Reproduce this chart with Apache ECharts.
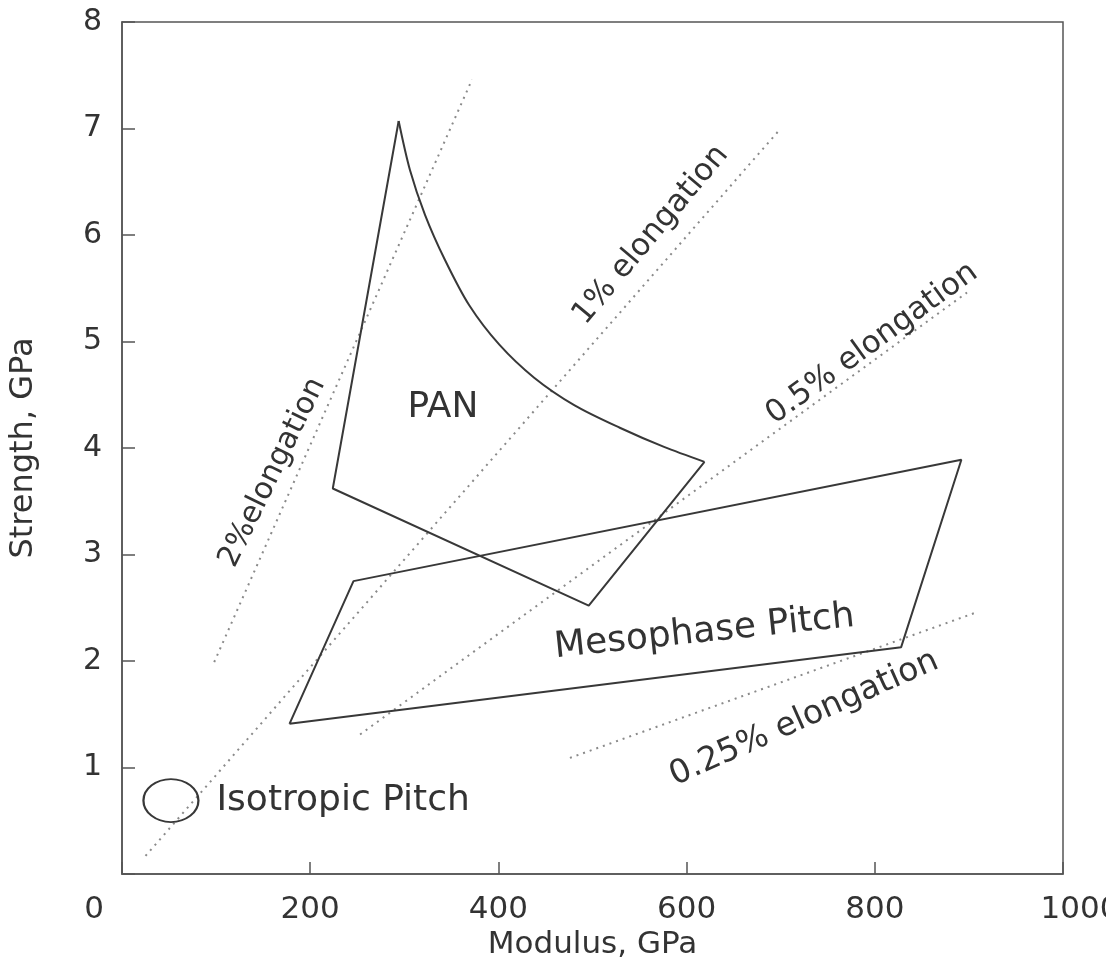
<!DOCTYPE html>
<html>
<head>
<meta charset="utf-8">
<script src="https://cdn.jsdelivr.net/npm/echarts@6/dist/echarts.min.js"></script>
<style>
html,body{margin:0;padding:0;background:#fff;}
#chart{width:1106px;height:976px;}
</style>
</head>
<body>
<div id="chart"></div>
<script>
// ---- data (Modulus GPa, Strength GPa) ----
var xTicks = [0, 200, 400, 600, 800, 1000];
var yTicks = [1, 2, 3, 4, 5, 6, 7, 8];

var panEdges = [[294, 7.07], [224, 3.62], [496, 2.52], [619, 3.87]];
var panCurve = [[619, 3.87], [576, 4.01], [529, 4.19], [481, 4.40], [438, 4.66], [401, 4.97], [369, 5.34], [343, 5.77], [322, 6.19], [306, 6.61], [294, 7.07]];
var mesophase = [[178, 1.41], [246, 2.75], [892, 3.89], [828, 2.13], [178, 1.41]];
var isotropic = [[52, 0.69]];

var elong2 = [[98, 1.99], [372, 7.46]];
var elong1 = [[25, 0.17], [700, 7.0]];
var elong05 = [[253, 1.31], [898, 5.46]];
var elong025 = [[476, 1.09], [909, 2.46]];

var labelTexts = ['PAN', 'Mesophase Pitch', 'Isotropic Pitch', '2%elongation', '1% elongation', '0.5% elongation', '0.25% elongation'];
var labelAt = [[341, 4.38], [619, 2.27], [235, 0.69], [160, 3.77], [562, 6.0], [797, 4.98], [725, 1.46]];
var labelRotate = [0, 6, 0, 64, 50, 36, 24];
var labelSize = [36, 36, 36, 30, 31, 31, 33];

// ---- chart ----
var FONT = 'DejaVu Sans';
var INK = '#333';
var chart = echarts.init(document.getElementById('chart'), null, {renderer: 'canvas'});

function solid(data, smooth) {
  return {type: 'line', data: data, symbol: 'none', silent: true, smooth: smooth || false,
    lineStyle: {color: '#383838', width: 2}, z: 3};
}
function dotted(data) {
  return {type: 'line', data: data, symbol: 'none', silent: true,
    lineStyle: {color: '#8a8a8a', width: 2, type: [2, 5]}, z: 2};
}

var labelData = labelTexts.map(function (t, i) {
  return {
    value: labelAt[i],
    label: {show: true, position: 'inside', formatter: t, rotate: labelRotate[i],
      fontSize: labelSize[i], fontFamily: FONT, color: INK, opacity: 1, textBorderWidth: 0}
  };
});

chart.setOption({
  animation: false,
  backgroundColor: '#fff',
  grid: {left: 122, top: 22, right: 43, bottom: 102, containLabel: false, outerBoundsMode: 'none',
    show: true, borderColor: '#555', borderWidth: 1.5},
  xAxis: {
    type: 'value', min: 0, max: 1000, interval: 200,
    name: 'Modulus, GPa', nameLocation: 'middle', nameGap: 52,
    nameTextStyle: {fontSize: 31, fontFamily: FONT, color: INK},
    axisLine: {show: true, lineStyle: {color: '#555', width: 1.5}},
    axisTick: {show: true, inside: true, length: 12, lineStyle: {color: '#555', width: 1.5}},
    splitLine: {show: false},
    axisLabel: {
      margin: 20, fontSize: 31, fontFamily: FONT, color: INK, showMinLabel: true, showMaxLabel: true,
      hideOverlap: false,
      formatter: function (v) {
        if (v === 0) return '{a|0}';
        if (v === 1000) return '{b|1000}';
        return '' + v;
      },
      rich: {
        a: {fontSize: 31, fontFamily: FONT, color: INK, padding: [0, 56, 0, 0]},
        b: {fontSize: 31, fontFamily: FONT, color: INK, padding: [0, 0, 0, 34]}
      }
    }
  },
  yAxis: {
    type: 'value', min: 0, max: 8, interval: 1,
    name: 'Strength, GPa', nameLocation: 'middle', nameGap: 82, nameRotate: 90,
    nameTextStyle: {fontSize: 32, fontFamily: FONT, color: INK},
    axisLine: {show: true, lineStyle: {color: '#555', width: 1.5}},
    axisTick: {show: true, inside: true, length: 13, lineStyle: {color: '#555', width: 1.5}},
    splitLine: {show: false},
    axisLabel: {
      margin: 20, fontSize: 30, fontFamily: FONT, color: INK,
      formatter: function (v) { return yTicks.indexOf(v) >= 0 ? '' + v : ''; }
    }
  },
  series: [
    dotted(elong2), dotted(elong1), dotted(elong05), dotted(elong025),
    solid(panEdges), solid(panCurve, 0.3), solid(mesophase),
    {type: 'scatter', data: isotropic, symbol: 'circle', symbolSize: [55, 43], silent: true, z: 3,
      itemStyle: {color: 'rgba(0,0,0,0)', borderColor: '#383838', borderWidth: 2, opacity: 1}},
    {type: 'scatter', data: labelData, symbolSize: 1, silent: true, z: 5,
      itemStyle: {color: 'rgba(0,0,0,0)', opacity: 1}}
  ]
});
</script>
</body>
</html>
